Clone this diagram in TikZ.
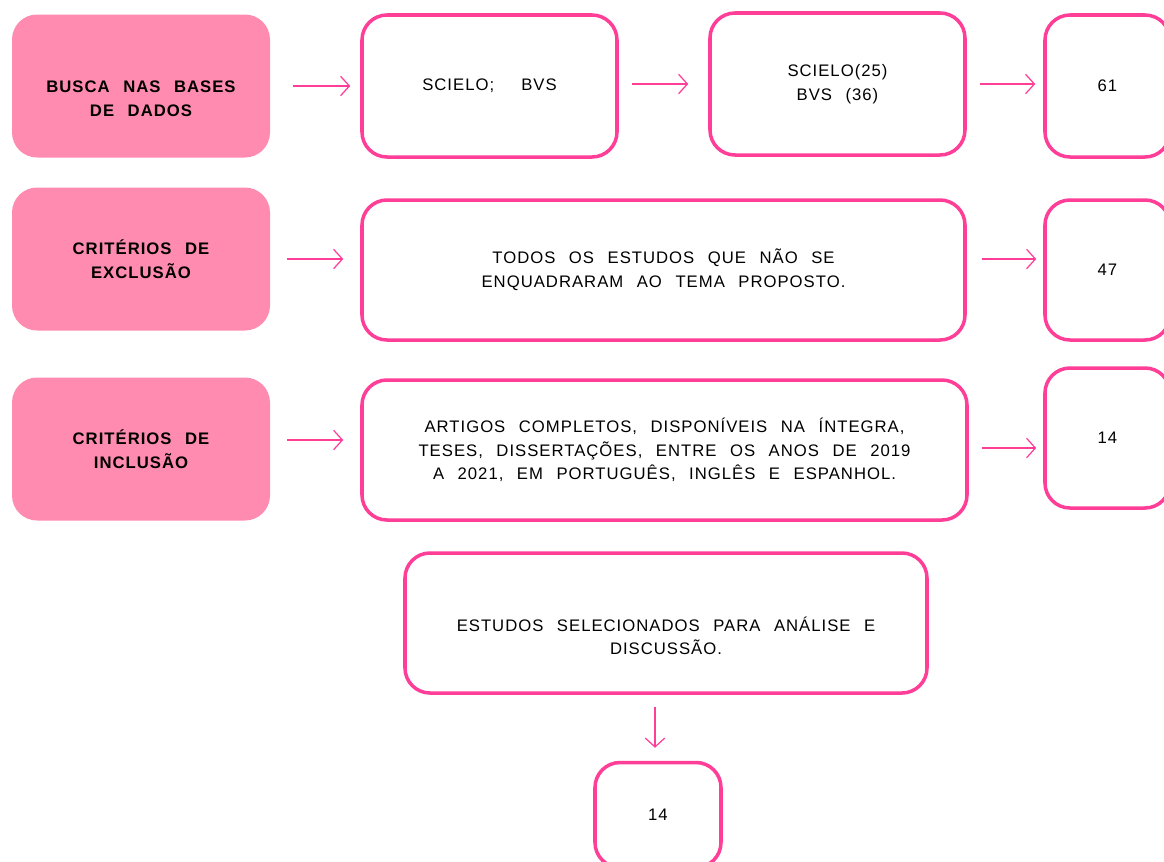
\documentclass[tikz,border=0pt]{standalone}
\usepackage{fontspec}
\setmainfont{Liberation Sans}[LetterSpace=6,WordSpace=2.4]
\usetikzlibrary{arrows.meta}
\definecolor{rosa}{RGB}{255,62,152}
\definecolor{rosaclaro}{RGB}{255,140,176}
\tikzset{
  caixa/.style={draw=rosa,line width=2pt,rounded corners=0.5cm,align=center,font=\fontsize{9.5}{13.5}\selectfont},
  cheia/.style={fill=rosaclaro,rounded corners=0.5cm,minimum width=5.16cm,minimum height=2.86cm,align=center,font=\fontsize{9.5}{13.5}\selectfont\bfseries},
  seta/.style={draw=rosa,line width=0.7pt,-{Straight Barb[length=5pt,width=11pt]}}
}
\begin{document}
\begin{tikzpicture}
\clip (0,0) rectangle (23.28,-17.22);
% linha 1
\node[cheia] (busca) at (2.82,-1.72) {\rule{0pt}{21pt}BUSCA NAS BASES\\DE DADOS};
\node[caixa,minimum width=5.1cm,minimum height=2.84cm] (bases) at (9.79,-1.72) {SCIELO;\ \ BVS};
\node[caixa,minimum width=5.1cm,minimum height=2.84cm] (scielo) at (16.75,-1.68) {SCIELO(25)\\BVS (36)};
\node[caixa,minimum width=2.5cm,minimum height=2.84cm] (n61) at (22.15,-1.72) {61};
% linha 2
\node[cheia] (exclu) at (2.82,-5.18) {CRITÉRIOS DE\\EXCLUSÃO};
\node[caixa,minimum width=12.06cm,minimum height=2.8cm] (todos) at (13.27,-5.4) {TODOS OS ESTUDOS QUE NÃO SE\\ENQUADRARAM AO TEMA PROPOSTO.};
\node[caixa,minimum width=2.5cm,minimum height=2.8cm] (n47) at (22.15,-5.4) {47};
% linha 3
\node[cheia] (inclu) at (2.82,-8.98) {CRITÉRIOS DE\\INCLUSÃO};
\node[caixa,minimum width=12.1cm,minimum height=2.8cm] (artigos) at (13.29,-9.0) {ARTIGOS COMPLETOS, DISPONÍVEIS NA ÍNTEGRA,\\TESES, DISSERTAÇÕES, ENTRE OS ANOS DE 2019\\A 2021, EM PORTUGUÊS, INGLÊS E ESPANHOL.};
\node[caixa,minimum width=2.5cm,minimum height=2.8cm] (n14) at (22.15,-8.76) {14};
% final
\node[caixa,minimum width=10.44cm,minimum height=2.8cm] (estudos) at (13.32,-12.46) {\rule{0pt}{23pt}ESTUDOS SELECIONADOS PARA ANÁLISE E\\DISCUSSÃO.};
\node[caixa,minimum width=2.52cm,minimum height=2.1cm] (fim) at (13.16,-16.3) {14};
% setas
\draw[seta,shorten <=0.46cm,shorten >=0.2cm] (busca.east) -- (bases.west |- busca.east);
\draw[seta,shorten <=0.26cm,shorten >=0.4cm] (bases.east |- scielo.east) -- (scielo.west);
\draw[seta,shorten <=0.26cm,shorten >=0.16cm] (scielo.east) -- (n61.west |- scielo.east);
\draw[seta,shorten <=0.34cm,shorten >=0.34cm] (exclu.east) -- (todos.west |- exclu.east);
\draw[seta,shorten <=0.3cm,shorten >=0.14cm] (todos.east |- exclu.east) -- (n47.west |- exclu.east);
\draw[seta,shorten <=0.34cm,shorten >=0.34cm] (inclu.east |- 0,-8.8) -- (artigos.west |- 0,-8.8);
\draw[seta,shorten <=0.26cm,shorten >=0.14cm] (artigos.east |- 0,-8.96) -- (n14.west |- 0,-8.96);
\draw[seta,shorten <=0.24cm,shorten >=0.26cm] (estudos.south -| 13.1,0) -- (fim.north -| 13.1,0);
\end{tikzpicture}
\end{document}
